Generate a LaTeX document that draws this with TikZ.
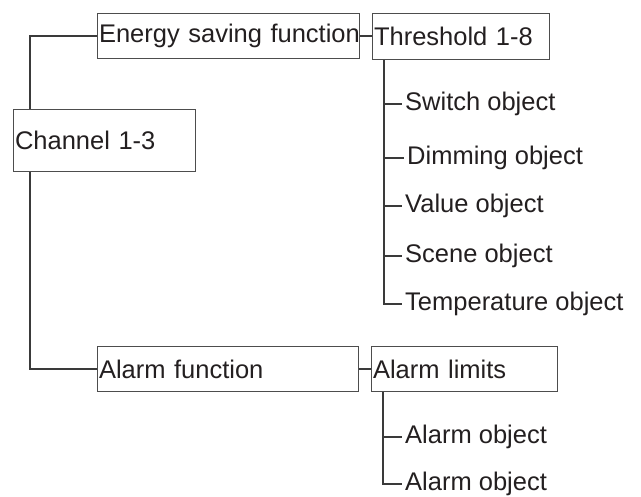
\documentclass[tikz,border=0pt]{standalone}
\usepackage{fontspec}
\setmainfont{Liberation Sans}
\usepackage{xcolor}
\usepackage{tikz}
\usetikzlibrary{positioning}
\definecolor{ink}{HTML}{231F20}
\definecolor{wire}{HTML}{3A3A3A}
\definecolor{frame}{HTML}{4D4D4D}
\tikzset{
  menu box/.style={
    draw=frame,
    line width=1.1pt,
    anchor=north west,
    minimum height=45,
    inner xsep=1.5pt,
    inner ysep=0pt,
    text width=#1,
    align=left,
    text=ink,
    execute at begin node={\hyphenpenalty=10000\exhyphenpenalty=10000},
    font=\fontsize{25.5pt}{30pt}\selectfont
  },
  menu leaf/.style={
    anchor=west,
    inner xsep=3pt,
    inner ysep=0pt,
    text=ink,
    font=\fontsize{25.5pt}{30pt}\selectfont
  },
  menu link/.style={
    draw=wire,
    line width=1.1pt
  }
}

\begin{document}
\begin{tikzpicture}[x=1pt, y=-1pt]
  \useasboundingbox (0,0) rectangle (641,497);

  % Boxes
  \node[menu box=179, minimum height=62] (chan) at (13,109) {Channel~1-3};
  \node[menu box=259] (energy) at (97,13) {Energy~saving~function};
  \node[menu box=174, minimum height=46] (thr) at (372,13) {Threshold~1-8};
  \node[menu box=258] (alarmf) at (97,346) {Alarm~function};
  \node[menu box=183] (limits) at (371,346) {Alarm~limits};

  % Objects of the threshold
  \node[menu leaf] (sw)   at (402,104) {Switch object};
  \node[menu leaf] (dim)  at (404,158) {Dimming object};
  \node[menu leaf] (val)  at (402,206) {Value object};
  \node[menu leaf] (scn)  at (402,256) {Scene object};
  \node[menu leaf] (temp) at (402,304) {Temperature object};

  % Objects of the alarm limits
  \node[menu leaf] (al1) at (402,437) {Alarm object};
  \node[menu leaf] (al2) at (402,484) {Alarm object};

  % Channel trunk
  \coordinate (trunk) at (30,0);
  \draw[menu link] (energy.west) -| (trunk |- chan.north);
  \draw[menu link] (alarmf.west) -| (trunk |- chan.south);
  \draw[menu link] (energy.east) -- (energy.east -| thr.west);
  \draw[menu link] (alarmf.east) -- (alarmf.east -| limits.west);

  % Threshold bus
  \coordinate (thrbus) at ([xshift=12]thr.south west);
  \draw[menu link] (thrbus) |- (temp.west);
  \foreach \leaf in {sw, dim, val, scn}
    \draw[menu link] (thrbus |- \leaf.west) -- (\leaf.west);

  % Alarm bus
  \coordinate (limbus) at ([xshift=12]limits.south west);
  \draw[menu link] (limbus) |- (al2.west);
  \draw[menu link] (limbus |- al1.west) -- (al1.west);
\end{tikzpicture}
\end{document}
